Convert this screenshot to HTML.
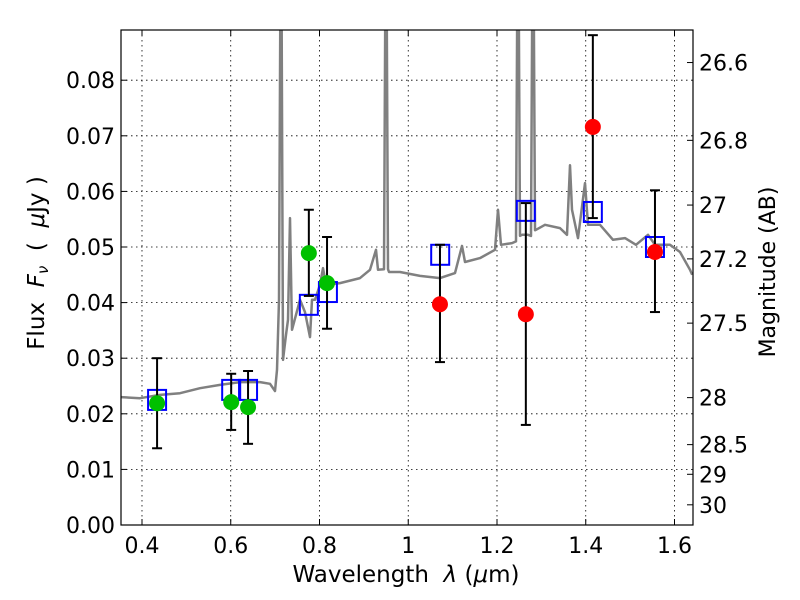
<!DOCTYPE html>
<html><head><meta charset="utf-8"><style>
body{margin:0;background:#fff;}
svg{display:block;font-family:"DejaVu Sans","Liberation Sans",sans-serif;}
</style></head><body>
<svg id="chart" width="800" height="600" viewBox="0 0 800 600" xmlns="http://www.w3.org/2000/svg">
<defs><clipPath id="clip"><rect x="121" y="30" width="572" height="495"/></clipPath></defs>
<rect width="800" height="600" fill="#fff"/>
<g id="grid"></g>
<g id="spec" clip-path="url(#clip)"></g>
<g id="marks"></g>
<rect x="121" y="30" width="572" height="495" fill="none" stroke="#000" stroke-width="1.2"/>
<g id="axes"></g>
<text x="406" y="582" font-size="23" text-anchor="middle" xml:space="preserve">Wavelength  <tspan font-style="italic">λ</tspan> (<tspan font-style="italic">μ</tspan>m)</text>
<text transform="translate(44,263) rotate(-90)" font-size="23" text-anchor="middle" xml:space="preserve">Flux  <tspan font-style="italic">F</tspan><tspan font-style="italic" font-size="15" dy="4">ν</tspan><tspan dy="-4">  (  </tspan><tspan font-style="italic">μ</tspan>Jy )</text>
<text transform="translate(775,272) rotate(-90)" font-size="22" text-anchor="middle">Magnitude (AB)</text>
</svg>
<script>
const specWl=[0.3527,0.3955,0.4406,0.4856,0.5307,0.5758,0.6208,0.6659,0.6885,0.6997,0.7042,0.7087,0.7132,0.7177,0.7245,0.7290,0.7335,0.7380,0.7470,0.7561,0.7673,0.7786,0.7831,0.7899,0.8011,0.8079,0.8146,0.8462,0.8913,0.9138,0.9273,0.9318,0.9454,0.9499,0.9544,0.9566,0.9814,1.0265,1.0715,1.1054,1.1211,1.1279,1.1617,1.1955,1.2023,1.2090,1.2338,1.2428,1.2473,1.2518,1.2563,1.2699,1.2766,1.2811,1.2856,1.2879,1.3082,1.3420,1.3577,1.3645,1.3690,1.3825,1.3983,1.4051,1.4321,1.4614,1.4885,1.5132,1.5403,1.5561,1.5899,1.6124,1.6349,1.64];
const specFlux=[0.0230,0.0228,0.0234,0.0237,0.0246,0.0252,0.0257,0.0257,0.0254,0.0241,0.0279,0.0405,0.12,0.0297,0.0342,0.0369,0.0552,0.0351,0.0378,0.0405,0.0383,0.0338,0.0405,0.0405,0.0432,0.0462,0.0432,0.0435,0.0444,0.0459,0.0495,0.0459,0.046,0.12,0.046,0.0455,0.0455,0.0448,0.0444,0.0453,0.0502,0.0473,0.0480,0.0495,0.0567,0.0504,0.0507,0.051,0.12,0.052,0.0522,0.0522,0.052,0.12,0.053,0.0531,0.0540,0.0534,0.0522,0.0647,0.0567,0.0516,0.0615,0.0540,0.0540,0.0513,0.0516,0.0504,0.0522,0.0504,0.0504,0.0491,0.0459,0.045];
const greenWl=[0.434,0.601,0.639,0.776,0.817];
const greenFlux=[0.0219,0.0221,0.0212,0.0489,0.0435];
const greenLo=[0.0138,0.0171,0.0146,0.0412,0.0353];
const greenHi=[0.0300,0.0272,0.0277,0.0567,0.0518];
const redWl=[1.0715,1.265,1.416,1.556];
const redFlux=[0.0397,0.0379,0.0716,0.0491];
const redLo=[0.0293,0.0180,0.0552,0.0383];
const redHi=[0.0504,0.0579,0.0881,0.0602];
const modelWl=[0.434,0.601,0.639,0.776,0.819,1.072,1.265,1.416,1.556];
const modelFlux=[0.0225,0.0243,0.0243,0.0396,0.0419,0.0486,0.0565,0.0563,0.0500];
const xTicks=[0.4,0.6,0.8,1.0,1.2,1.4,1.6];
const xTickLabels=["0.4","0.6","0.8","1","1.2","1.4","1.6"];
const yTicks=[0,0.01,0.02,0.03,0.04,0.05,0.06,0.07,0.08];
const yTickLabels=["0.00","0.01","0.02","0.03","0.04","0.05","0.06","0.07","0.08"];
const magTicks=[26.6,26.8,27,27.2,27.5,28,28.5,29,30];
const magTickLabels=["26.6","26.8","27","27.2","27.5","28","28.5","29","30"];

const NS="http://www.w3.org/2000/svg";
const X0=121,X1=693,Y0=525,Y1=30,xmin=0.3527,xmax=1.6417,ymin=0,ymax=0.08903;
function sx(v){return X0+(v-xmin)/(xmax-xmin)*(X1-X0);}
function sy(v){return Y0-(v-ymin)/(ymax-ymin)*(Y0-Y1);}
function magToFlux(m){return Math.pow(10,(23.9-m)/2.5);}
function mk(tag,attrs,parent){const e=document.createElementNS(NS,tag);for(const k in attrs)e.setAttribute(k,attrs[k]);parent.appendChild(e);return e;}
const grid=document.getElementById('grid'),axes=document.getElementById('axes'),spec=document.getElementById('spec'),marks=document.getElementById('marks');

xTicks.forEach((t,i)=>{const x=sx(t);
 const g=mk('line',{x1:x,x2:x,y1:Y1,y2:Y0,stroke:'#000','stroke-width':0.8,'stroke-dasharray':'1.5,3.5'},grid);
 
 
 mk('line',{x1:x,x2:x,y1:Y0,y2:Y0-6,stroke:'#000'},axes);
 mk('line',{x1:x,x2:x,y1:Y1,y2:Y1+6,stroke:'#000'},axes);
 const l=mk('text',{x:x,y:553,'font-size':22,'text-anchor':'middle'},axes);l.textContent=xTickLabels[i];
 
 
});
yTicks.forEach((t,i)=>{const y=sy(t);
 const g=mk('line',{x1:X0,x2:X1,y1:y,y2:y,stroke:'#000','stroke-width':0.8,'stroke-dasharray':'1.5,3.5'},grid);
 
 
 mk('line',{x1:X0,x2:X0+6,y1:y,y2:y,stroke:'#000'},axes);
 const l=mk('text',{x:115,y:y+8,'font-size':22,'text-anchor':'end'},axes);l.textContent=yTickLabels[i];
 
 
});
magTicks.forEach((m,i)=>{const y=sy(magToFlux(m));
 mk('line',{x1:X1,x2:X1-6,y1:y,y2:y,stroke:'#000'},axes);
 const l=mk('text',{x:699,y:y+8,'font-size':22,'text-anchor':'start'},axes);l.textContent=magTickLabels[i];
 
 
});
const d=specWl.map((w,i)=>(i?'L':'M')+sx(w).toFixed(1)+','+sy(specFlux[i]).toFixed(1)).join(' ');
const p=mk('path',{d:d,fill:'none',stroke:'#808080','stroke-width':2.5,'stroke-linejoin':'round'},spec);


modelWl.forEach((w,i)=>{
 const r=mk('rect',{x:sx(w)-9,y:sy(modelFlux[i])-10,width:18,height:20,fill:'none',stroke:'#0000ff','stroke-width':2},marks);
 
 
});
function pts(wl,fl,lo,hi,col,name){wl.forEach((w,i)=>{const x=sx(w);
 mk('line',{x1:x,x2:x,y1:sy(lo[i]),y2:sy(hi[i]),stroke:'#000','stroke-width':2},marks);
 mk('line',{x1:x-5,x2:x+5,y1:sy(lo[i]),y2:sy(lo[i]),stroke:'#000','stroke-width':2},marks);
 mk('line',{x1:x-5,x2:x+5,y1:sy(hi[i]),y2:sy(hi[i]),stroke:'#000','stroke-width':2},marks);
 const c=mk('circle',{cx:x,cy:sy(fl[i]),r:8,fill:col},marks);
 
 
});}
pts(greenWl,greenFlux,greenLo,greenHi,'#00c000','green-point');
pts(redWl,redFlux,redLo,redHi,'#ff0000','red-point');
</script>
</body></html>
